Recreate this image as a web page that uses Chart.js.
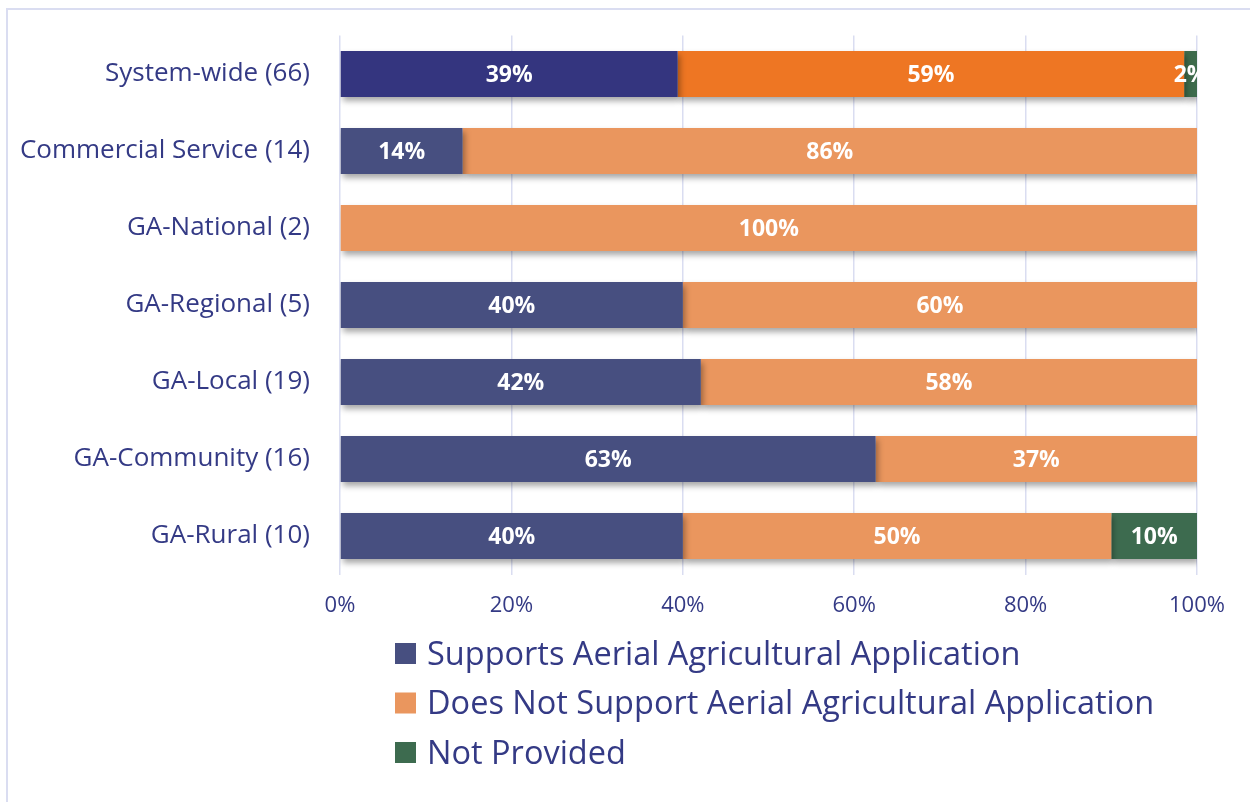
<!DOCTYPE html>
<html>
<head>
<meta charset="utf-8">
<script src="https://cdn.jsdelivr.net/npm/chart.js@4/dist/chart.umd.min.js"></script>
<style>
html,body{margin:0;padding:0;background:#fff;overflow:hidden;}
#wrap{position:relative;width:1250px;height:802px;}
#frame{position:absolute;left:6px;top:8px;width:1270px;height:820px;border:2px solid #DADDF1;box-sizing:border-box;}
canvas{position:absolute;left:0;top:0;}
</style>
</head>
<body>
<div id="wrap">
<div id="frame"></div>
<canvas id="c" width="1250" height="802"></canvas>
</div>
<script>
const categories = ['System-wide (66)', 'Commercial Service (14)', 'GA-National (2)', 'GA-Regional (5)', 'GA-Local (19)', 'GA-Community (16)', 'GA-Rural (10)'];
const seriesNames = ['Supports Aerial Agricultural Application', 'Does Not Support Aerial Agricultural Application', 'Not Provided'];
const supports = [39.4, 14.3, 0, 40, 42.1, 62.5, 40];
const doesNotSupport = [59.1, 85.7, 100, 60, 57.9, 37.5, 50];
const notProvided = [1.5, 0, 0, 0, 0, 0, 10];
const supportsLabels = ['39%', '14%', '', '40%', '42%', '63%', '40%'];
const doesNotLabels = ['59%', '86%', '100%', '60%', '58%', '37%', '50%'];
const notProvidedLabels = ['2%', '', '', '', '', '', '10%'];
const xTickValues = [0, 20, 40, 60, 80, 100];

const FONT = "'Open Sans', 'Noto Sans', sans-serif";
const TEXT = '#343A85';
const colSupports = ['#34357F', '#474F80', '#474F80', '#474F80', '#474F80', '#474F80', '#474F80'];
const colDoesNot = ['#EE7623', '#EA965E', '#EA965E', '#EA965E', '#EA965E', '#EA965E', '#EA965E'];
const colNotProv = ['#3D6B4C', '#3D6B4F', '#3D6B4F', '#3D6B4F', '#3D6B4F', '#3D6B4F', '#3D6B4F'];
const legendColors = ['#474F80', '#EA965E', '#3D6B4F'];
const labelSets = [supportsLabels, doesNotLabels, notProvidedLabels];

const shadowPlugin = {
  id: 'shadow',
  beforeDatasetsDraw(chart) {
    const ctx = chart.ctx;
    ctx.save();
    ctx.shadowColor = 'rgba(0,0,0,0.35)';
    ctx.shadowBlur = 6;
    ctx.shadowOffsetX = 2;
    ctx.shadowOffsetY = 4;
  },
  afterDatasetsDraw(chart) {
    chart.ctx.restore();
  }
};

const labelPlugin = {
  id: 'barLabels',
  afterDatasetsDraw(chart) {
    const ctx = chart.ctx;
    ctx.save();
    ctx.fillStyle = '#FFFFFF';
    ctx.font = "bold 23px " + FONT;
    ctx.textAlign = 'center';
    ctx.textBaseline = 'middle';
    chart.data.datasets.forEach((ds, di) => {
      const meta = chart.getDatasetMeta(di);
      meta.data.forEach((bar, i) => {
        const txt = labelSets[di][i];
        if (!txt || !ds.data[i]) return;
        const x = (bar.x + bar.base) / 2;
        ctx.fillText(txt, x, bar.y + 1);
      });
    });
    ctx.restore();
  }
};

const legendPlugin = {
  id: 'customLegend',
  afterDraw(chart) {
    const ctx = chart.ctx;
    ctx.save();
    ctx.font = "32.5px " + FONT;
    ctx.textBaseline = 'middle';
    ctx.textAlign = 'left';
    const top = chart.chartArea.bottom;
    chart.data.datasets.forEach((ds, i) => {
      const cy = top + 79 + i * 49.5;
      ctx.fillStyle = legendColors[i];
      ctx.fillRect(395, cy - 10.5, 21, 21);
      ctx.fillStyle = TEXT;
      ctx.fillText(ds.label, 427, cy + 2);
    });
    ctx.restore();
  }
};

new Chart(document.getElementById('c'), {
  type: 'bar',
  data: {
    labels: categories,
    datasets: [
      { label: seriesNames[0], data: supports, backgroundColor: colSupports },
      { label: seriesNames[1], data: doesNotSupport, backgroundColor: colDoesNot },
      { label: seriesNames[2], data: notProvided, backgroundColor: colNotProv }
    ]
  },
  options: {
    indexAxis: 'y',
    responsive: false,
    animation: false,
    devicePixelRatio: 1,
    layout: { padding: { left: 0, right: 53, top: 35.5, bottom: 177.5 } },
    datasets: { bar: { barPercentage: 0.6, categoryPercentage: 1, borderWidth: 0 } },
    plugins: { legend: { display: false }, tooltip: { enabled: false } },
    scales: {
      x: {
        stacked: true,
        min: 0,
        max: 100,
        afterBuildTicks(scale) { scale.ticks = xTickValues.map(v => ({ value: v })); },
        afterFit(scale) { scale.height = 50; scale.paddingLeft = 0; scale.paddingRight = 0; },
        grid: { color: '#DADDF1', lineWidth: 1.5, drawTicks: false },
        border: { display: false },
        ticks: { padding: 18, color: TEXT, font: { family: FONT, size: 22 }, callback: v => v + '%' }
      },
      y: {
        stacked: true,
        afterFit(scale) { scale.width = 340; scale.paddingTop = 0; scale.paddingBottom = 0; },
        grid: { display: false, drawTicks: false },
        border: { display: false },
        ticks: { padding: 30, color: TEXT, font: { family: FONT, size: 26 } }
      }
    }
  },
  plugins: [shadowPlugin, labelPlugin, legendPlugin]
});
</script>
</body>
</html>
